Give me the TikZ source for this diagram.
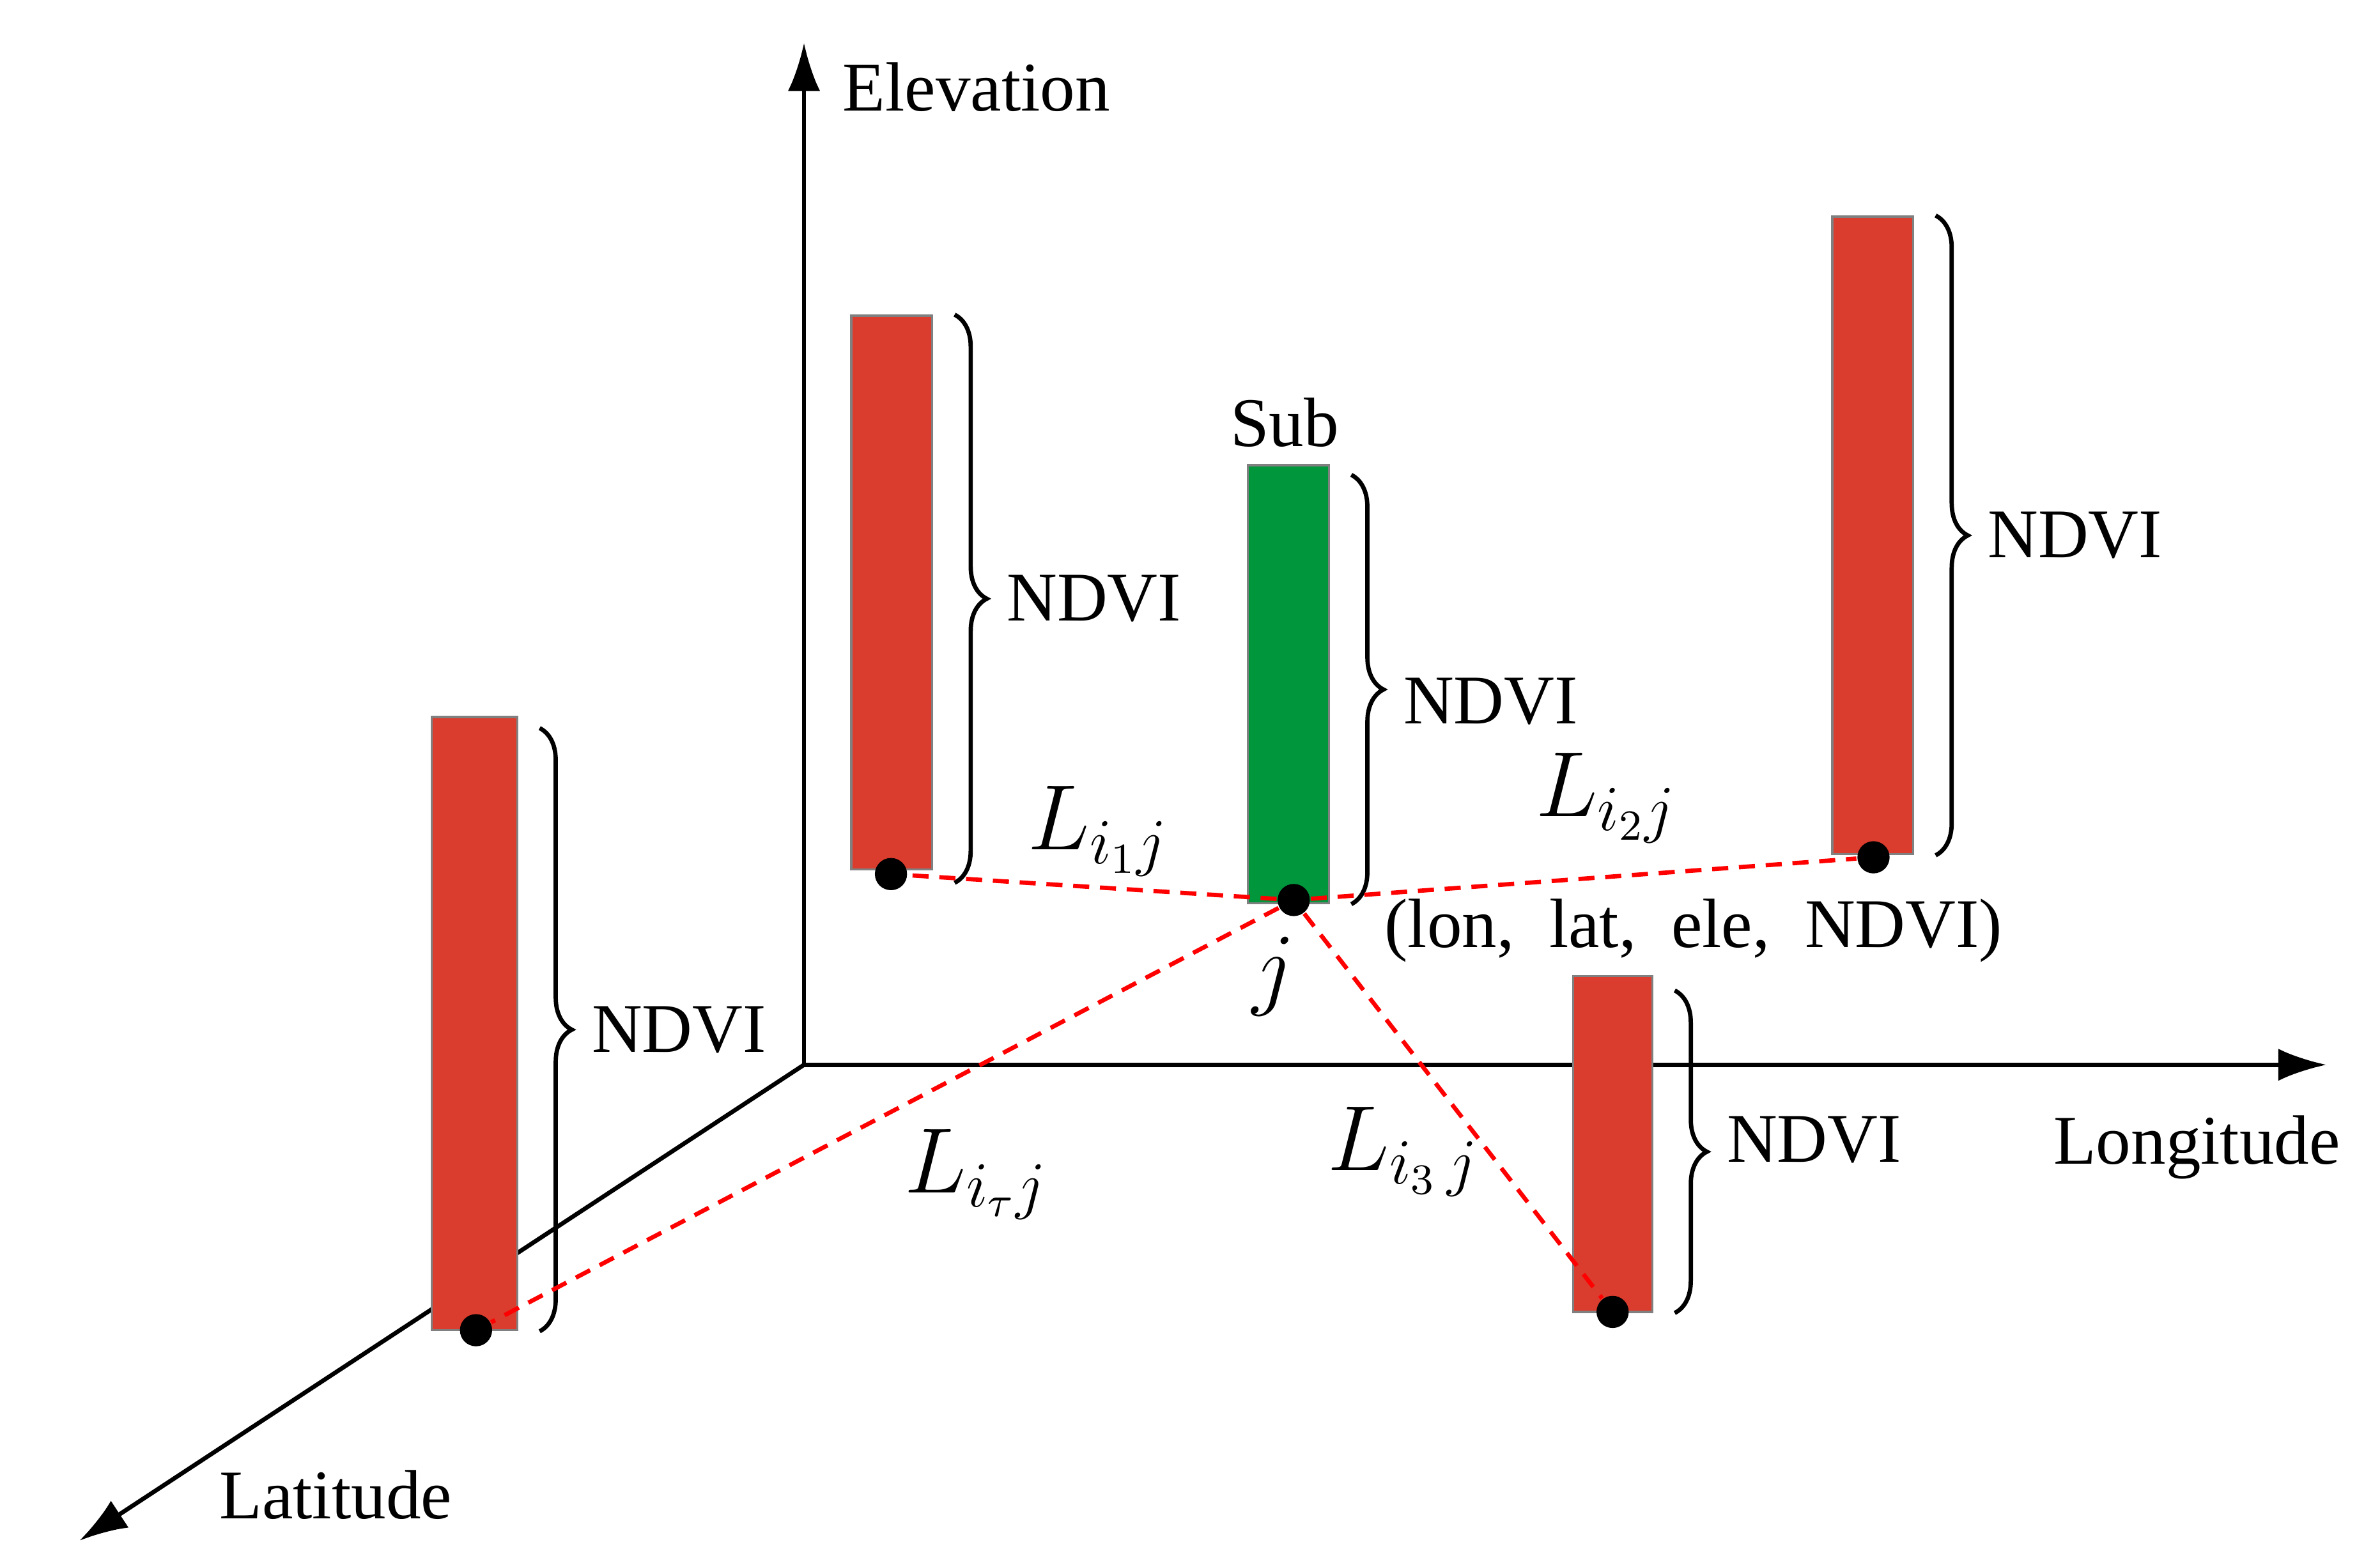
\documentclass[tikz,border=0pt]{standalone}
\usepackage{fontspec}
\setmainfont{Liberation Serif}
\usetikzlibrary{fit,decorations.pathreplacing,arrows.meta}
\definecolor{barred}{RGB}{218,60,45}
\definecolor{bargreen}{RGB}{0,150,60}
\begin{document}
\begin{tikzpicture}[x=0.01cm,y=-0.01cm,
    every node/.style={font=\fontsize{13pt}{15pt}\selectfont},
    axis/.style={thick,-{Latex[length=9pt,width=6pt]}},
    redbar/.style={draw=gray,fill=barred,inner sep=0pt},
    greenbar/.style={draw=gray,fill=bargreen,inner sep=0pt},
    dot/.style={circle,fill=black,inner sep=0pt,minimum size=6pt},
    link/.style={red,densely dashed,thick},
    brc/.style={decorate,decoration={brace,amplitude=6pt},thick},
    dist/.style={font=\fontsize{17pt}{19pt}\selectfont}
]
\useasboundingbox (0,0) rectangle (1560,1025.5);
% axes
\coordinate (O) at (527,698);
\coordinate (up) at (527,28);
\coordinate (right) at (1525,698);
\coordinate (down) at (52,1010);
\draw[axis] (O) -- (up);
\draw[axis] (O) -- (right);
\draw[axis] (O) -- (down);
\node[anchor=west] (elev) at (540,57) {Elevation};
\node (lon) at (1440,752) {Longitude};
\node (lat) at (220,980) {Latitude};
% bars
\node[redbar,fit={(558,207) (611,570)}] (b1) {};
\node[greenbar,fit={(818,305) (871,592)}] (b0) {};
\node[redbar,fit={(1201,142) (1254,560)}] (b2) {};
\node[redbar,fit={(283,470) (339,872)}] (b4) {};
\node[redbar,fit={(1031,640) (1083,860)}] (b3) {};
\node (sub) at (842,277) {Sub};
% braces
\draw[brc] ([xshift=0.14cm]b1.north east) -- ([xshift=0.14cm,yshift=-0.08cm]b1.south east)
    node[midway,right=6pt] (n1) {NDVI};
\draw[brc] ([xshift=0.14cm,yshift=-0.07cm]b0.north east) -- ([xshift=0.14cm]b0.south east)
    node[midway,right=6pt,yshift=-0.08cm] (n0) {NDVI};
\draw[brc] ([xshift=0.14cm]b2.north east) -- ([xshift=0.14cm]b2.south east)
    node[midway,right=6pt] (n2) {NDVI};
\draw[brc] ([xshift=0.14cm,yshift=-0.08cm]b4.north east) -- ([xshift=0.14cm]b4.south east)
    node[midway,right=6pt] (n4) {NDVI};
\draw[brc] ([xshift=0.14cm,yshift=-0.1cm]b3.north east) -- ([xshift=0.14cm]b3.south east)
    node[midway,right=6pt,yshift=0.08cm] (n3) {NDVI};
% points and links
\node[dot] (j) at (848,590) {};
\node[dot] (d1) at (584,573) {};
\node[dot] (d2) at (1228,562) {};
\node[dot] (d3) at (1057,860) {};
\node[dot] (d4) at (312,872) {};
\draw[link] (j) -- (d1);
\draw[link] (j) -- (d2);
\draw[link] (j) -- (d3);
\draw[link] (j) -- (d4);
\node[dist] (jl) at (835,640) {$j$};
\node (coord) at (1110,610) {(lon,\ \ lat,\ \ ele,\ \ NDVI)};
\node[dist] (l1) at (720,545) {$L_{i_1 j}$};
\node[dist] (l2) at (1053,523) {$L_{i_2 j}$};
\node[dist] (l3) at (920,755) {$L_{i_3\, j}$};
\node[dist] (l4) at (640,770) {$L_{i_\tau j}$};
\end{tikzpicture}
\end{document}
